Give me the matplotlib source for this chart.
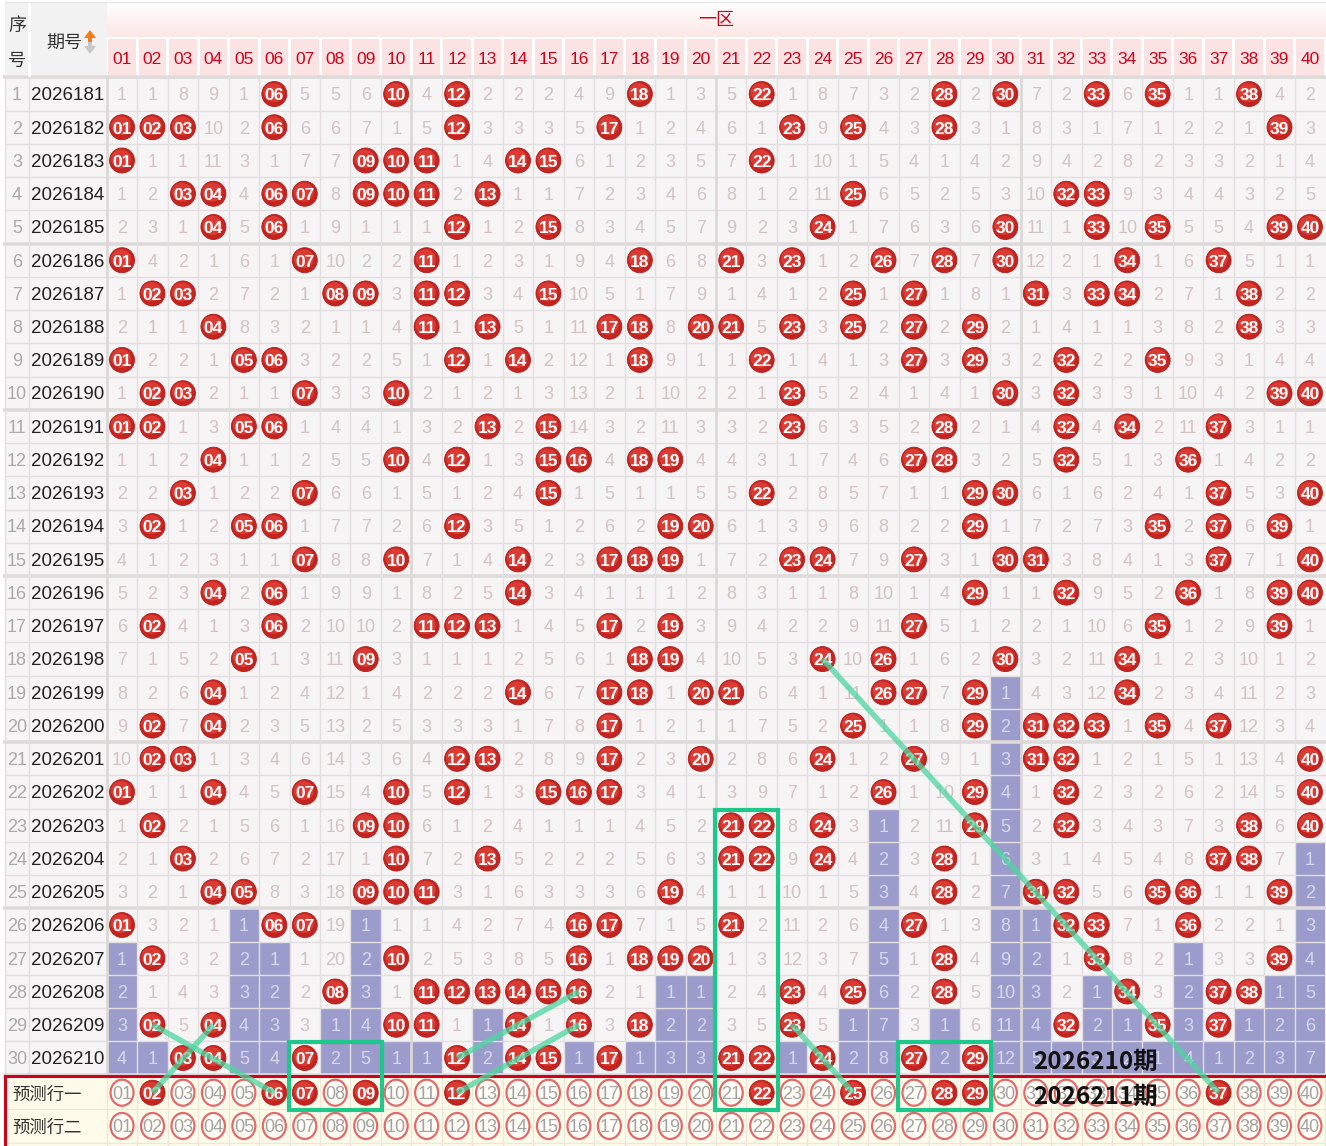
import matplotlib
matplotlib.use("Agg")
import matplotlib.pyplot as plt
from matplotlib.patches import Rectangle, Ellipse, Polygon
import numpy as np

plt.rcParams["font.family"] = ["Liberation Sans", "Noto Sans CJK SC", "DejaVu Sans"]

# ---- data --------------------------------------------------------------------
periods = ["2026181", "2026182", "2026183", "2026184", "2026185",
           "2026186", "2026187", "2026188", "2026189", "2026190",
           "2026191", "2026192", "2026193", "2026194", "2026195",
           "2026196", "2026197", "2026198", "2026199", "2026200",
           "2026201", "2026202", "2026203", "2026204", "2026205",
           "2026206", "2026207", "2026208", "2026209", "2026210"]

row_hits = [
    [6, 10, 12, 18, 22, 28, 30, 33, 35, 38],
    [1, 2, 3, 6, 12, 17, 23, 25, 28, 39],
    [1, 9, 10, 11, 14, 15, 22],
    [3, 4, 6, 7, 9, 10, 11, 13, 25, 32, 33],
    [4, 6, 12, 15, 24, 30, 33, 35, 39, 40],
    [1, 7, 11, 18, 21, 23, 26, 28, 30, 34, 37],
    [2, 3, 8, 9, 11, 12, 15, 25, 27, 31, 33, 34, 38],
    [4, 11, 13, 17, 18, 20, 21, 23, 25, 27, 29, 38],
    [1, 5, 6, 12, 14, 18, 22, 27, 29, 32, 35],
    [2, 3, 7, 10, 23, 30, 32, 39, 40],
    [1, 2, 5, 6, 13, 15, 23, 28, 32, 34, 37],
    [4, 10, 12, 15, 16, 18, 19, 27, 28, 32, 36],
    [3, 7, 15, 22, 29, 30, 37, 40],
    [2, 5, 6, 12, 19, 20, 29, 35, 37, 39],
    [7, 10, 14, 17, 18, 19, 23, 24, 27, 30, 31, 37, 40],
    [4, 6, 14, 29, 32, 36, 39, 40],
    [2, 6, 11, 12, 13, 17, 19, 27, 35, 39],
    [5, 9, 18, 19, 24, 26, 30, 34],
    [4, 14, 17, 18, 20, 21, 26, 27, 29, 34],
    [2, 4, 17, 25, 29, 31, 32, 33, 35, 37],
    [2, 3, 12, 13, 17, 20, 24, 27, 31, 32, 40],
    [1, 4, 7, 10, 12, 15, 16, 17, 26, 29, 32, 40],
    [2, 9, 10, 21, 22, 24, 29, 32, 38, 40],
    [3, 10, 13, 21, 22, 24, 28, 37, 38],
    [4, 5, 9, 10, 11, 19, 28, 31, 32, 35, 36, 39],
    [1, 6, 7, 16, 17, 21, 27, 32, 33, 36],
    [2, 10, 16, 18, 19, 20, 28, 33, 39],
    [8, 11, 12, 13, 14, 15, 16, 23, 25, 28, 34, 37, 38],
    [2, 4, 10, 11, 14, 16, 18, 23, 32, 35, 37],
    [3, 4, 7, 12, 14, 15, 17, 21, 22, 24, 27, 29],
]

# omission shown in the first row (0 = drawn)
first_omit = [1, 1, 8, 9, 1, 0, 5, 5, 6, 0, 4, 0, 2, 2, 2, 4, 9, 0, 1, 3,
              5, 0, 1, 8, 7, 3, 2, 0, 2, 0, 7, 2, 0, 6, 0, 1, 1, 0, 4, 2]

pred_labels = ["预测行一", "预测行二"]
pred_marked = [[2, 6, 7, 9, 12, 22, 25, 28, 29, 37], []]

# green annotations: (col, row) -> (col, row); row 31 = 预测行一
green_lines = [((2, 29), (6, 31)), ((4, 29), (2, 31)),
               ((16, 28), (12, 30)), ((16, 29), (12, 31)),
               ((24, 18), (37, 31)), ((23, 29), (25, 31))]
green_boxes = [(7, 9, 30, 31), (21, 22, 23, 31), (27, 29, 30, 31)]
note_lines = ["2026210期", "2026211期"]

# ---- layout / style ----------------------------------------------------------
W, H = 1326, 1146
X0, CW = 106.8, 30.46
Y0, RH = 77.4, 33.24
NCOL, NROW = 40, len(periods)
TY = 1.8  # text sits a little low in the cells

RED = "#d5302b"
RED_TXT = "#d0021b"
BLUE = "#9b9bcc"
CELL = "#f6f4f5"
GRID = "#e3dfe0"
MISS_TXT = "#d3c3c3"


def xc(c):
    return X0 + (c - 0.5) * CW


def yc(r):
    y = Y0 + (r - 0.5) * RH
    return y + 1.5 if r > NROW else y


def ball(ax, x, y, txt, z=5):
    ax.add_patch(Ellipse((x, y), 25, 25, fc="#c42420", ec="#b51d1a", lw=0.6, zorder=z))
    ax.add_patch(Ellipse((x - 1, y - 1.5), 20, 19, fc="#dc3b34", ec="none", zorder=z))
    ax.text(x, y + TY, txt, ha="center", va="center", color="white",
            fontsize=12.5, fontweight="bold", zorder=z + 1)


# omission table
omit = [first_omit]
for hits in row_hits[1:]:
    omit.append([0 if c in hits else omit[-1][c - 1] + 1 for c in range(1, NCOL + 1)])
last_hit = [max(r for r in range(NROW) if c in row_hits[r]) for c in range(1, NCOL + 1)]

fig = plt.figure(figsize=(W / 100, H / 100), dpi=100)
ax = fig.add_axes([0, 0, 1, 1])
ax.set_xlim(0, W)
ax.set_ylim(H, 0)
ax.axis("off")

# ---- header ------------------------------------------------------------------
ax.add_patch(Rectangle((5, 2), X0 - 5, Y0 - 4, fc="#f2f2f2", ec="none"))
ax.plot([29, 29], [2, Y0 - 2], color="white", lw=2)
grad = np.linspace(0, 1, 50).reshape(-1, 1)
ax.imshow(grad, extent=(X0, W, 37, 2), cmap=matplotlib.colors.LinearSegmentedColormap.from_list(
    "band", ["#ffffff", "#fde6e6"]), aspect="auto", zorder=0)
ax.plot([5, W], [2, 2], color="#e6e6e6", lw=1)
ax.text(17, 25 + TY, "序", ha="center", va="center", fontsize=13, color="#333333")
ax.text(17, 60 + TY, "号", ha="center", va="center", fontsize=13, color="#333333")
ax.text(64, 43 + TY, "期号", ha="center", va="center", fontsize=13, color="#333333")
ax.add_patch(Polygon([[84, 38], [96, 38], [90, 30]], fc="#f77b1c", ec="none"))
ax.add_patch(Rectangle((88, 38), 4, 4, fc="#f77b1c", ec="none"))
ax.add_patch(Polygon([[84, 46], [96, 46], [90, 54]], fc="#c8c8c8", ec="none"))
ax.add_patch(Rectangle((88, 42), 4, 4, fc="#c8c8c8", ec="none"))
ax.text((X0 + W) / 2, 19 + TY, "一区", ha="center", va="center", fontsize=13, color=RED_TXT)
for c in range(1, NCOL + 1):
    ax.add_patch(Rectangle((X0 + (c - 1) * CW + 1.5, 39), CW - 3, Y0 - 41, fc="#fbe3e3", ec="none"))
    ax.text(xc(c), 58 + TY, f"{c:02d}", ha="center", va="center", fontsize=12.5, color=RED_TXT)

# ---- body --------------------------------------------------------------------
ax.add_patch(Rectangle((5, Y0), W - 5, NROW * RH, fc=CELL, ec="none", zorder=0))
for r in range(NROW):
    y = yc(r + 1)
    ax.text(17, y + TY, str(r + 1), ha="center", va="center", fontsize=13, color="#aaaaaa")
    ax.text(31, y + TY, periods[r], ha="left", va="center", fontsize=13.5, color="#222222")
    for c in range(1, NCOL + 1):
        x = xc(c)
        v = omit[r][c - 1]
        if v == 0:
            ball(ax, x, y, f"{c:02d}")
        elif r > last_hit[c - 1]:
            ax.add_patch(Rectangle((X0 + (c - 1) * CW, Y0 + r * RH), CW, RH, fc=BLUE, ec="none", zorder=1))
            ax.text(x, y + TY, str(v), ha="center", va="center", fontsize=13, color="#d8d8ec", zorder=2)
        else:
            ax.text(x, y + TY, str(v), ha="center", va="center", fontsize=13, color=MISS_TXT, zorder=2)

for r in range(NROW + 1):
    thick = r % 5 == 0
    ax.plot([5, W], [Y0 + r * RH] * 2, color="#dedada" if thick else GRID,
            lw=2.6 if thick else 1, zorder=1.5)
for x in [5, 29, X0] + [X0 + c * CW for c in range(1, NCOL)]:
    k = round((x - X0) / CW)
    thick = x == X0 or (x > X0 and k % 10 == 0)
    ax.plot([x, x], [Y0, Y0 + NROW * RH], color="#dcd8d8" if thick else GRID,
            lw=2 if thick else 1, zorder=1.5)

# ---- prediction rows -------------------------------------------------------------
py0 = Y0 + NROW * RH + 1.5
ax.add_patch(Rectangle((5, py0), W - 5, H - py0, fc="#fffbea", ec="none", zorder=0))
for k, lab in enumerate(pred_labels):
    y = yc(NROW + 1 + k)
    ax.text(12, y + TY, lab, ha="left", va="center", fontsize=12.5, color="#333333")
    for c in range(1, NCOL + 1):
        x = xc(c)
        if c in pred_marked[k]:
            ball(ax, x, y, f"{c:02d}")
        else:
            ax.add_patch(Ellipse((x, y), 23, 26, fc="#fffdf6", ec="#e26a6a", lw=1.6, zorder=3))
            ax.text(x, y + TY, f"{c:02d}", ha="center", va="center", fontsize=13,
                    color="#a3a3a3", zorder=4)
    ax.plot([5, W], [py0 + (k + 1) * RH] * 2, color="#ece7d8", lw=1, zorder=1)
for c in range(NCOL + 1):
    ax.plot([X0 + c * CW] * 2, [py0, H], color="#ece7d8", lw=1, zorder=1)
ax.plot([5, W], [py0, py0], color=RED_TXT, lw=2.2, zorder=6)
ax.plot([5, 5], [py0, H], color=RED_TXT, lw=2.2, zorder=6)

# ---- green annotations -----------------------------------------------------------
for (c0, r0), (c1, r1) in green_lines:
    ax.plot([xc(c0), xc(c1)], [yc(r0), yc(r1)], color="#4cd6a0", lw=4, alpha=0.75,
            solid_capstyle="butt", zorder=8)
for c0, c1, r0, r1 in green_boxes:
    x0 = X0 + (c0 - 1) * CW - 1
    x1 = X0 + c1 * CW + 1
    y0 = yc(r0) - RH / 2 + 1
    y1 = yc(r1) + RH / 2 + 1
    ax.add_patch(Rectangle((x0, y0), x1 - x0, y1 - y0, fc="none", ec="#1dc88a", lw=3, zorder=9))

for k, t in enumerate(note_lines):
    ax.text(1033, yc(NROW + k) + 4, t, ha="left", va="center", fontsize=17.5,
            fontweight="bold", color="#111111", zorder=10,
            family=["Noto Sans CJK SC", "DejaVu Sans"])

fig.savefig("out.png", dpi=100)
